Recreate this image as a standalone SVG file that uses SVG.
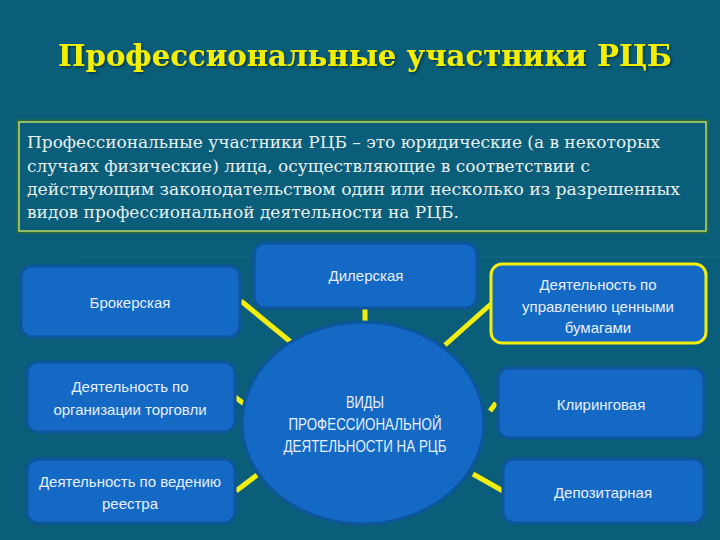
<svg xmlns="http://www.w3.org/2000/svg" width="720" height="540" viewBox="0 0 720 540">
<defs>
<filter id="sh" x="-5%" y="-20%" width="110%" height="140%">
<feDropShadow dx="1.5" dy="1.5" stdDeviation="0.8" flood-color="#06303c" flood-opacity="0.9"/>
</filter>
</defs>
<style>
.bg{fill:#0b5e79}
.title{font-family:"DejaVu Serif","Liberation Serif",serif;font-weight:bold;font-size:29px;fill:#f2f000}
.body{font-family:"DejaVu Serif","Liberation Serif",serif;font-size:16px;fill:#e6f0f0}
.box{fill:#1469c4;stroke:#0d559c;stroke-width:3}
.lbl{font-family:"Liberation Sans Narrow","Liberation Sans",sans-serif;font-size:15px;fill:#e8f0ff;text-anchor:middle}
.ctr{font-family:"Liberation Sans Narrow","Liberation Sans",sans-serif;font-size:16px;fill:#e8f0ff;text-anchor:middle}
.conn{stroke:#f2ee10;stroke-width:5;stroke-linecap:butt;fill:none}
</style>
<rect class="bg" x="0" y="0" width="720" height="540"/>
<g id="title">
<text class="title" x="58" y="66" textLength="614" lengthAdjust="spacingAndGlyphs" filter="url(#sh)">Профессиональные участники РЦБ</text>
</g>
<g id="definition">
<rect x="18" y="121" width="689" height="111" fill="none" stroke="#2a6a3a" stroke-width="3"/>
<rect x="19" y="122" width="687" height="109" fill="#0b5e79" stroke="#d4e870" stroke-width="1.3"/>
<text class="body" x="27" y="148" textLength="633" lengthAdjust="spacingAndGlyphs">Профессиональные участники РЦБ – это юридические (а в некоторых</text>
<text class="body" x="27" y="172" textLength="563" lengthAdjust="spacingAndGlyphs">случаях физические) лица, осуществляющие в соответствии с</text>
<text class="body" x="27" y="195" textLength="653" lengthAdjust="spacingAndGlyphs">действующим законодательством один или несколько из разрешенных</text>
<text class="body" x="27" y="218" textLength="432" lengthAdjust="spacingAndGlyphs">видов профессиональной деятельности на РЦБ.</text>
</g>
<line x1="80" y1="257" x2="250" y2="257" stroke="#1a6c8c" stroke-width="1"/>
<line x1="480" y1="257" x2="720" y2="257" stroke="#1a6c8c" stroke-width="1"/>
<g id="connectors">
<line class="conn" x1="241" y1="301" x2="292" y2="343"/>
<line class="conn" x1="365" y1="309" x2="365" y2="321"/>
<line class="conn" x1="491" y1="304" x2="445" y2="345"/>
<line class="conn" x1="235" y1="397" x2="247" y2="406"/>
<line class="conn" x1="236" y1="491" x2="257" y2="475"/>
<line class="conn" x1="490" y1="411" x2="496" y2="403"/>
<line class="conn" x1="473" y1="474" x2="503" y2="491"/>
</g>
<g id="center">
<ellipse cx="363" cy="423" rx="121" ry="101" fill="#1469c4" stroke="#0d559c" stroke-width="3"/>
<text class="ctr" x="365" y="408" textLength="38" lengthAdjust="spacingAndGlyphs">ВИДЫ</text>
<text class="ctr" x="365" y="430" textLength="153" lengthAdjust="spacingAndGlyphs">ПРОФЕССИОНАЛЬНОЙ</text>
<text class="ctr" x="365" y="452" textLength="163" lengthAdjust="spacingAndGlyphs">ДЕЯТЕЛЬНОСТИ НА РЦБ</text>
</g>
<g id="broker">
<rect class="box" x="21" y="266" width="219" height="71" rx="11"/>
<text class="lbl" x="130" y="308">Брокерская</text>
</g>
<g id="dealer">
<rect class="box" x="254" y="243" width="223" height="65" rx="11"/>
<text class="lbl" x="366" y="281">Дилерская</text>
</g>
<g id="management">
<rect x="491" y="264" width="215" height="79" rx="11" fill="#1469c4" stroke="#f2ee10" stroke-width="3"/>
<text class="lbl" x="598" y="290">Деятельность по</text>
<text class="lbl" x="598" y="312">управлению ценными</text>
<text class="lbl" x="598" y="333">бумагами</text>
</g>
<g id="trading">
<rect class="box" x="27" y="362" width="208" height="70" rx="11"/>
<text class="lbl" x="130" y="392">Деятельность по</text>
<text class="lbl" x="130" y="415">организации торговли</text>
</g>
<g id="registry">
<rect class="box" x="27" y="459" width="208" height="64" rx="11"/>
<text class="lbl" x="130" y="487">Деятельность по ведению</text>
<text class="lbl" x="130" y="509">реестра</text>
</g>
<g id="clearing">
<rect class="box" x="498" y="368" width="206" height="70" rx="11"/>
<text class="lbl" x="601" y="410">Клиринговая</text>
</g>
<g id="depository">
<rect class="box" x="503" y="459" width="201" height="64" rx="11"/>
<text class="lbl" x="603" y="498">Депозитарная</text>
</g>
</svg>
